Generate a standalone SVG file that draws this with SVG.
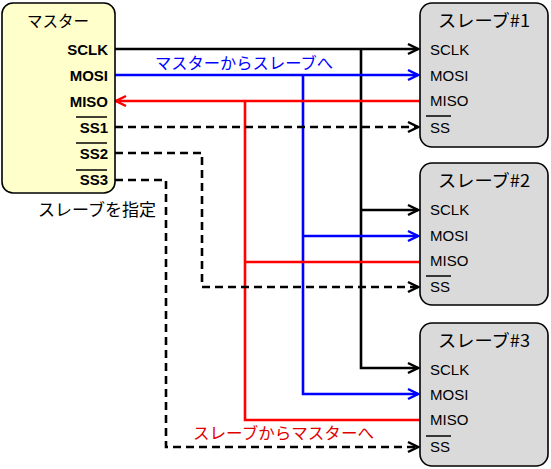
<svg xmlns="http://www.w3.org/2000/svg" width="551" height="469" viewBox="0 0 551 469">
<style>
.t{font-family:"Liberation Sans","Noto Sans CJK JP",sans-serif;fill:#000}
.jp{font-family:"Noto Sans CJK JP","Liberation Sans",sans-serif}
.mp{font-size:15px;font-weight:bold;text-anchor:end}
.sp{font-size:15px}
.ttl{font-size:16px}
.st{font-size:17.5px}
.ln{fill:none;stroke-width:2.6}
.k{stroke:#000}
.b{stroke:#0000FF}
.r{stroke:#FF0000}
.d{stroke:#000;stroke-dasharray:8 5}
.ov{stroke:#000;stroke-width:1.5}
.master{fill:#FFFFCC;stroke:#000;stroke-width:1.6}
.slave{fill:#DADADA;stroke:#000;stroke-width:1.6}
</style>
<defs>
<marker id="ak" markerUnits="userSpaceOnUse" markerWidth="14" markerHeight="14" refX="12" refY="7" orient="auto"><path d="M2,2 L12,7 L2,12" fill="none" stroke="#000" stroke-width="2.5"/></marker>
<marker id="ab" markerUnits="userSpaceOnUse" markerWidth="14" markerHeight="14" refX="12" refY="7" orient="auto"><path d="M2,2 L12,7 L2,12" fill="none" stroke="#0000FF" stroke-width="2.5"/></marker>
<marker id="ar" markerUnits="userSpaceOnUse" markerWidth="14" markerHeight="14" refX="12" refY="7" orient="auto"><path d="M2,2 L12,7 L2,12" fill="none" stroke="#FF0000" stroke-width="2.5"/></marker>
</defs>

<g id="connectors">
<path class="ln k" d="M115,49 H418" marker-end="url(#ak)"/>
<path class="ln k" d="M361,49 V368 H418" marker-end="url(#ak)"/>
<path class="ln k" d="M361,210 H418" marker-end="url(#ak)"/>
<path class="ln b" d="M115,75 H418" marker-end="url(#ab)"/>
<path class="ln b" d="M303,75 V394 H418" marker-end="url(#ab)"/>
<path class="ln b" d="M303,236 H418" marker-end="url(#ab)"/>
<path class="ln r" d="M420,101 H116" marker-end="url(#ar)"/>
<path class="ln r" d="M420,262 H245"/>
<path class="ln r" d="M420,420 H245 V101"/>
<path class="ln d" d="M115,127 H418" marker-end="url(#ak)"/>
<path class="ln d" d="M115,153 H202 V287 H418" marker-end="url(#ak)"/>
<path class="ln d" d="M115,180 H166 V447 H418" marker-end="url(#ak)"/>
<text class="jp" x="155" y="69" font-size="16" fill="#0000FF" textLength="178" lengthAdjust="spacingAndGlyphs">マスターからスレーブへ</text>
<text class="jp" x="193" y="439" font-size="16" fill="#E00000" textLength="181" lengthAdjust="spacingAndGlyphs">スレーブからマスターへ</text>
</g>

<g id="master">
<rect class="master" x="2" y="3" width="113" height="190" rx="11"/>
<text class="t jp ttl" x="27" y="27" textLength="62" lengthAdjust="spacingAndGlyphs">マスター</text>
<text class="t mp" x="108" y="55">SCLK</text>
<text class="t mp" x="108" y="81">MOSI</text>
<text class="t mp" x="108" y="107">MISO</text>
<text class="t mp" x="108" y="133">SS1</text>
<text class="t mp" x="108" y="159">SS2</text>
<text class="t mp" x="108" y="185">SS3</text>
<line class="ov" x1="76" y1="117" x2="107" y2="117"/>
<line class="ov" x1="76" y1="143" x2="107" y2="143"/>
<line class="ov" x1="76" y1="170" x2="107" y2="170"/>
<text class="t jp" x="38" y="216" font-size="16.5" textLength="118" lengthAdjust="spacingAndGlyphs">スレーブを指定</text>
</g>

<g id="slave1">
<rect class="slave" x="420" y="3" width="128" height="144" rx="12"/>
<text class="t jp st" x="438" y="27" textLength="92" lengthAdjust="spacingAndGlyphs">スレーブ#1</text>
<text class="t sp" x="430" y="55">SCLK</text>
<text class="t sp" x="430" y="81">MOSI</text>
<text class="t sp" x="430" y="106">MISO</text>
<text class="t sp" x="430" y="133">SS</text>
<line class="ov" x1="426" y1="116" x2="451" y2="116"/>
</g>

<g id="slave2">
<rect class="slave" x="420" y="163" width="128" height="142" rx="12"/>
<text class="t jp st" x="438" y="187" textLength="92" lengthAdjust="spacingAndGlyphs">スレーブ#2</text>
<text class="t sp" x="430" y="215">SCLK</text>
<text class="t sp" x="430" y="241">MOSI</text>
<text class="t sp" x="430" y="266">MISO</text>
<text class="t sp" x="430" y="292">SS</text>
<line class="ov" x1="426" y1="276" x2="451" y2="276"/>
</g>

<g id="slave3">
<rect class="slave" x="420" y="323" width="128" height="143" rx="12"/>
<text class="t jp st" x="438" y="347" textLength="92" lengthAdjust="spacingAndGlyphs">スレーブ#3</text>
<text class="t sp" x="430" y="375">SCLK</text>
<text class="t sp" x="430" y="400">MOSI</text>
<text class="t sp" x="430" y="425">MISO</text>
<text class="t sp" x="430" y="452">SS</text>
<line class="ov" x1="426" y1="436" x2="451" y2="436"/>
</g>
</svg>
